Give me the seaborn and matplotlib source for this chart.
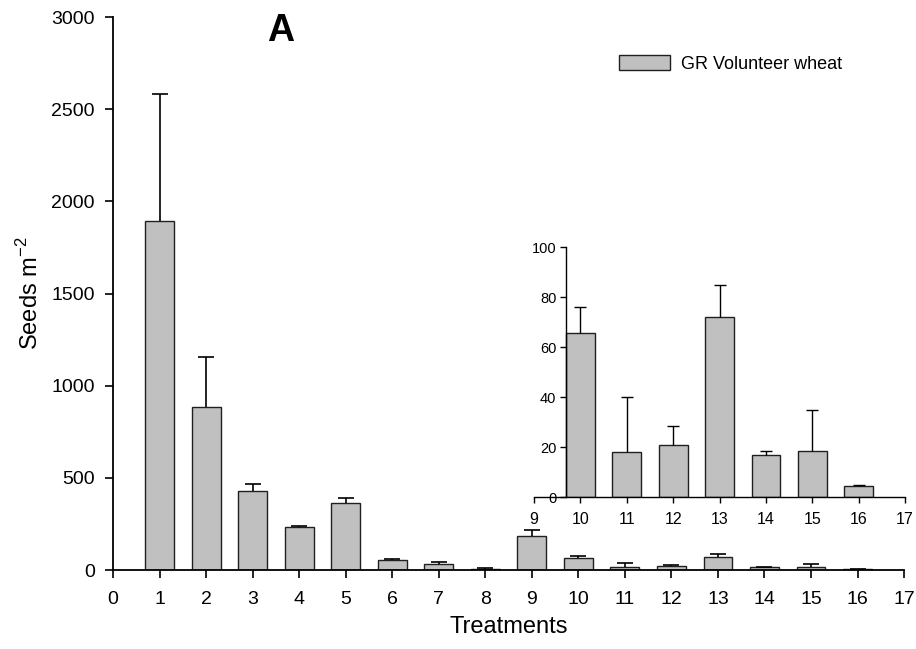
import numpy as np
import pandas as pd
import matplotlib
matplotlib.use('Agg')
import matplotlib.pyplot as plt
import seaborn as sns

# Seeds m-2 per treatment
treatments = [1, 2, 3, 4, 5, 6, 7, 8, 9, 10, 11, 12, 13, 14, 15, 16]
means = [1895, 883, 429, 232, 365, 54, 32, 8, 184, 65.5, 18, 21, 72, 17, 18.3, 4.5]
upper = [2585, 1154, 468, 239, 389, 60, 45, 10, 219, 76, 40, 28.5, 85, 18.5, 35, 5]
series_name = 'GR Volunteer wheat'

main_xticks = list(range(0, 18))
main_yticks = [0, 500, 1000, 1500, 2000, 2500, 3000]
inset_xticks = list(range(9, 18))
inset_yticks = [0, 20, 40, 60, 80, 100]

df = pd.DataFrame({'Treatment': treatments, 'Seeds': means})
df['err'] = np.array(upper) - np.array(means)

sns.set_style('white')
plt.rcParams['font.family'] = ['Liberation Sans', 'DejaVu Sans']
plt.rcParams['text.color'] = 'black'
plt.rcParams['axes.labelcolor'] = 'black'
plt.rcParams['mathtext.fontset'] = 'custom'
plt.rcParams['mathtext.rm'] = 'Liberation Sans'

bar_color = '#c0c0c0'
bar_w = 0.62


def upper_errors(axis, d, lw, cap):
    # only the upper whisker, no cap on the bar top
    cont = axis.errorbar(d['Treatment'], d['Seeds'], yerr=[np.zeros(len(d)), d['err']],
                         fmt='none', ecolor='black', elinewidth=lw, capsize=cap, capthick=lw)
    cont[1][0].set_visible(False)


fig = plt.figure(figsize=(9.16, 6.49), dpi=100)
ax = fig.add_axes([0.1234, 0.1217, 0.8636, 0.8521])

sns.barplot(data=df, x='Treatment', y='Seeds', native_scale=True, width=bar_w,
            color=bar_color, edgecolor='#202020', linewidth=1.0, saturation=1,
            errorbar=None, label=series_name, ax=ax)
upper_errors(ax, df, 1.2, 5.8)

ax.set_xlim(0, 17)
ax.set_ylim(0, 3000)
ax.set_xticks(main_xticks)
ax.set_yticks(main_yticks)
ax.tick_params(axis='both', direction='out', length=6, width=1.2, labelsize=14,
               colors='black', bottom=True, left=True)
ax.tick_params(axis='x', pad=9)
ax.tick_params(axis='y', pad=7)
sns.despine(ax=ax)
for s in ['left', 'bottom']:
    ax.spines[s].set_linewidth(1.3)
    ax.spines[s].set_color('black')
ax.set_xlabel('Treatments', fontsize=17, labelpad=6)
ax.set_ylabel('Seeds m$^{\\mathregular{-2}}$', fontsize=17, labelpad=6)
ax.grid(False)

fig.text(0.306, 0.953, 'A', fontsize=27, fontweight='bold', ha='center', va='center')

handles, labels = ax.get_legend_handles_labels()
ax.legend(handles[:1], labels[:1], loc='center left', frameon=False, fontsize=13,
          handlelength=2.8, handleheight=0.95, handletextpad=0.6,
          bbox_to_anchor=(0.676, 0.902), bbox_transform=fig.transFigure,
          borderpad=0, borderaxespad=0)

# inset for treatments 10-16
ins = fig.add_axes([0.583, 0.2342, 0.405, 0.3852])
sub = df[df['Treatment'] >= 10]
sns.barplot(data=sub, x='Treatment', y='Seeds', native_scale=True, width=bar_w,
            color=bar_color, edgecolor='#202020', linewidth=1.0, saturation=1,
            errorbar=None, ax=ins)
upper_errors(ins, sub, 1.0, 4.5)
ins.set_xlim(9, 17)
ins.set_ylim(0, 100)
ins.set_xticks(inset_xticks)
ins.set_yticks(inset_yticks)
ins.set_facecolor('none')
sns.despine(ax=ins)
ins.spines['left'].set_position(('data', 10 - bar_w / 2))
for s in ['left', 'bottom']:
    ins.spines[s].set_linewidth(1.0)
    ins.spines[s].set_color('black')
ins.tick_params(axis='both', direction='out', length=4, width=1.0, colors='black',
                bottom=True, left=True)
ins.tick_params(axis='x', labelsize=11.5, pad=7)
ins.tick_params(axis='y', labelsize=10.5, pad=3)
ins.set_xlabel('')
ins.set_ylabel('')
ins.grid(False)

fig.savefig('out.png', dpi=100)
